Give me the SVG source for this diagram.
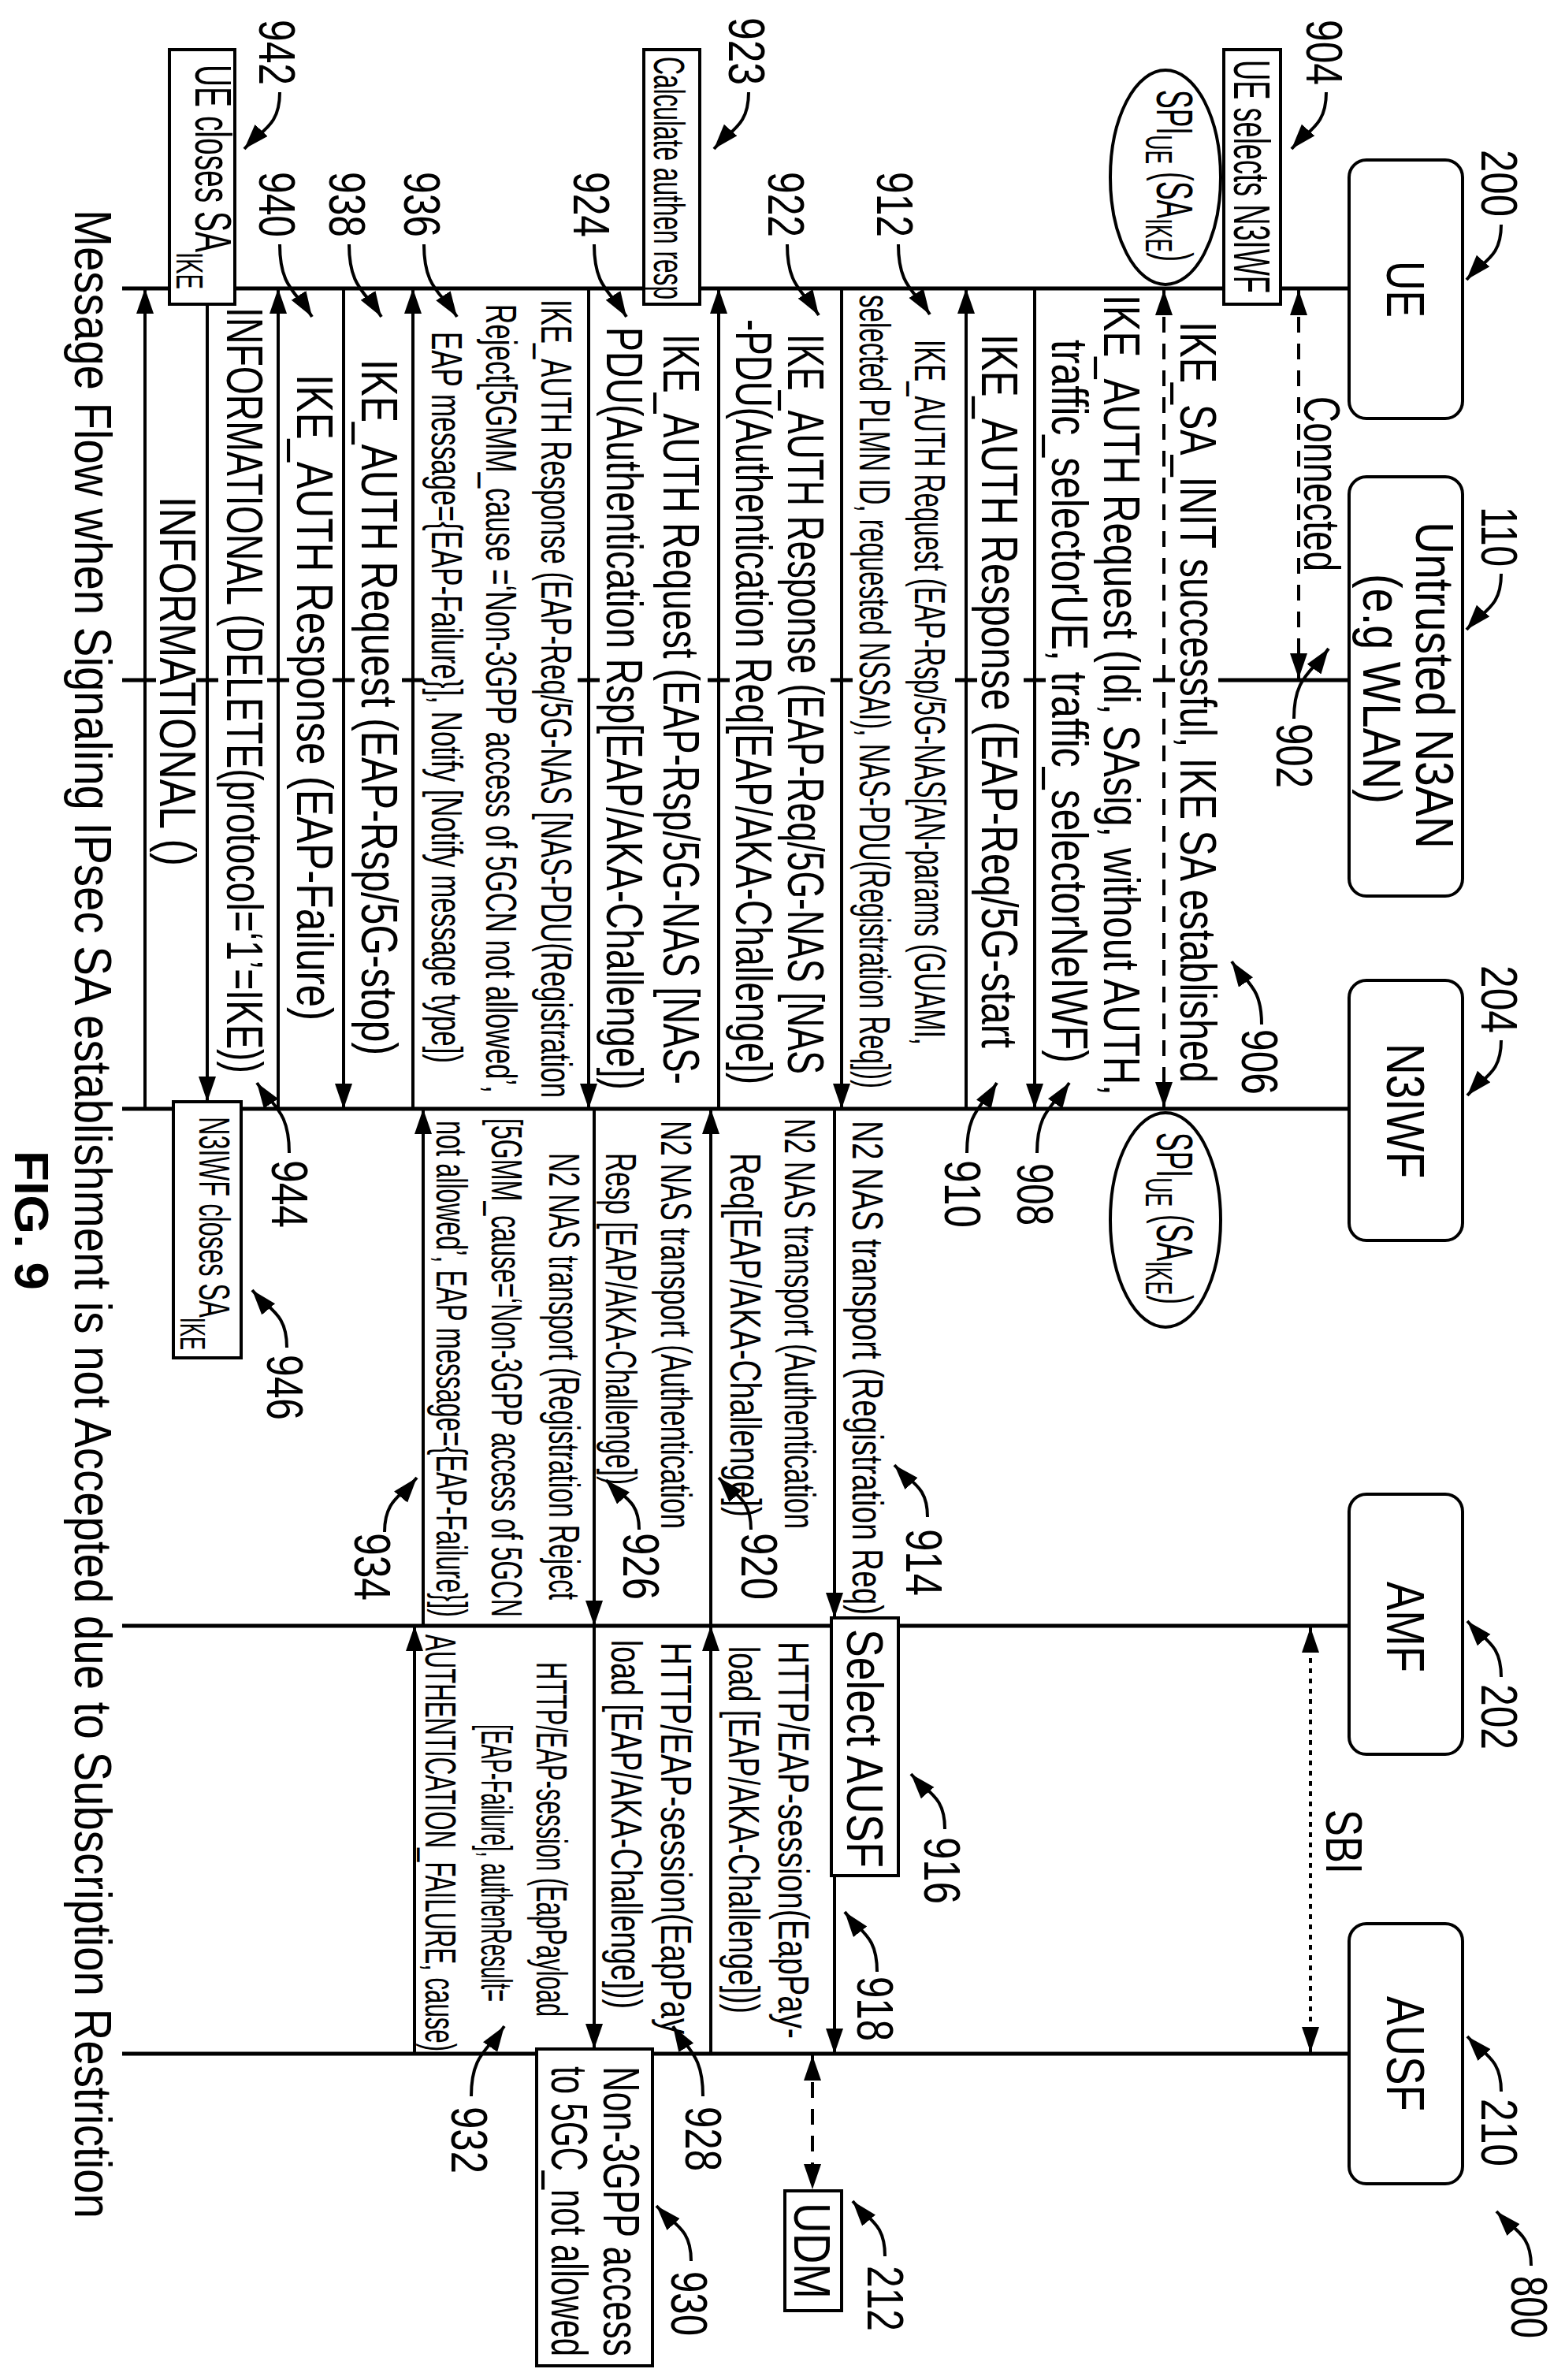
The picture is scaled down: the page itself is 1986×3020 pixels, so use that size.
<svg xmlns="http://www.w3.org/2000/svg" width="1986" height="3020" viewBox="0 0 1986 3020">
<defs>
<marker id="ah" markerUnits="userSpaceOnUse" markerWidth="34" markerHeight="24" refX="32" refY="11" orient="auto-start-reverse"><path d="M0,0 L32,11 L0,22 z" fill="#000"/></marker>
<style>
.ll{stroke:#000;stroke-width:5;fill:none}
.m{stroke:#000;stroke-width:4;fill:none;marker-end:url(#ah)}
.d{stroke:#000;stroke-width:4;fill:none;stroke-dasharray:20 14;marker-start:url(#ah);marker-end:url(#ah)}
.o{stroke:#000;stroke-width:4;fill:none;stroke-dasharray:6 7;marker-start:url(#ah);marker-end:url(#ah)}
.bx{fill:#fff;stroke:#000;stroke-width:4}
.el{fill:#fff;stroke:#000;stroke-width:4}
.ld{stroke:#000;stroke-width:4;fill:none;marker-end:url(#ah)}
text{font-family:"Liberation Sans",Arial,Helvetica,sans-serif;fill:#000}
.b{font-size:64px}
.s{font-size:56px}
.n{font-size:64px}
.h{font-size:68px}
</style>
</defs>
<rect width="1986" height="3020" fill="#fff"/>
<g transform="translate(1986,0) rotate(90)">
<g id="lifelines">
<line class="ll" x1="366" y1="274" x2="366" y2="1831"/>
<line class="ll" x1="1407" y1="274" x2="1407" y2="1831"/>
<line class="ll" x1="2063" y1="274" x2="2063" y2="1831"/>
<line class="ll" x1="2606" y1="274" x2="2606" y2="1831"/>
<path class="ll" d="M863,274 V440 M863,495 V523 M863,659 V687 M863,746 V774 M863,904 V932 M863,1060 V1088 M863,1225 V1253 M863,1448 V1476 M863,1536 V1564 M863,1619 V1647 M863,1709 V1737 M863,1788 V1831"/>
</g>
<g id="UE"><rect class="bx" x="203" y="130" width="328" height="144" rx="22"/><text class="h" x="331" y="226" textLength="72" lengthAdjust="spacingAndGlyphs">UE</text>
<text class="n" x="190" y="106" textLength="85" lengthAdjust="spacingAndGlyphs">200</text><path class="ld" d="M285,81 C327,81 330,103 355,125"/></g>
<g id="N3AN"><rect class="bx" x="605" y="130" width="532" height="144" rx="22"/><text class="h" x="662" y="189" textLength="415" lengthAdjust="spacingAndGlyphs">Untrusted N3AN</text><text class="h" x="728" y="256" textLength="292" lengthAdjust="spacingAndGlyphs">(e.g WLAN)</text>
<text class="n" x="643" y="106" textLength="76" lengthAdjust="spacingAndGlyphs">110</text><path class="ld" d="M728,81 C771,81 774,103 799,125"/></g>
<g id="N3IWF"><rect class="bx" x="1244" y="130" width="330" height="144" rx="22"/><text class="h" x="1324" y="226" textLength="171" lengthAdjust="spacingAndGlyphs">N3IWF</text>
<text class="n" x="1225" y="106" textLength="86" lengthAdjust="spacingAndGlyphs">204</text><path class="ld" d="M1320,81 C1362,81 1365,102 1390,124"/></g>
<g id="AMF"><rect class="bx" x="1896" y="130" width="330" height="144" rx="22"/><text class="h" x="2007" y="226" textLength="115" lengthAdjust="spacingAndGlyphs">AMF</text>
<text class="n" x="2137" y="106" textLength="83" lengthAdjust="spacingAndGlyphs">202</text><path class="ld" d="M2128,81 C2085,81 2082,102 2057,124"/></g>
<g id="AUSF"><rect class="bx" x="2441" y="130" width="330" height="144" rx="22"/><text class="h" x="2533" y="226" textLength="146" lengthAdjust="spacingAndGlyphs">AUSF</text>
<text class="n" x="2663" y="106" textLength="86" lengthAdjust="spacingAndGlyphs">210</text><path class="ld" d="M2654,81 C2612,81 2608,102 2584,124"/></g>
<g id="ref800"><text class="n" x="2888" y="68" textLength="79" lengthAdjust="spacingAndGlyphs">800</text><path class="ld" d="M2875,43 C2834,43 2830,65 2806,87"/></g>
<g id="UDM"><rect class="bx" x="2780" y="918" width="152" height="72" /><text class="b" x="2795" y="978" textLength="122" lengthAdjust="spacingAndGlyphs">UDM</text>
<text class="n" x="2875" y="885" textLength="83" lengthAdjust="spacingAndGlyphs">212</text><path class="ld" d="M2863,863 C2821,863 2818,883 2793,904"/></g>
<g id="connectors">
<line class="d" x1="368" y1="338" x2="861" y2="338"/>
<line class="d" x1="368" y1="509" x2="1405" y2="509"/>
<line class="m" x1="366" y1="673" x2="1407" y2="673"/>
<line class="m" x1="1407" y1="760" x2="366" y2="760"/>
<line class="m" x1="366" y1="918" x2="1407" y2="918"/>
<line class="m" x1="1407" y1="1074" x2="366" y2="1074"/>
<line class="m" x1="366" y1="1239" x2="1407" y2="1239"/>
<line class="m" x1="1407" y1="1462" x2="366" y2="1462"/>
<line class="m" x1="366" y1="1550" x2="1407" y2="1550"/>
<line class="m" x1="1407" y1="1633" x2="366" y2="1633"/>
<line class="m" x1="386" y1="1723" x2="1398" y2="1723"/>
<line class="m" x1="1407" y1="1802" x2="366" y2="1802"/>
<line class="m" x1="1407" y1="927" x2="2053" y2="927"/>
<line class="m" x1="2380" y1="927" x2="2606" y2="927"/>
<line class="m" x1="2606" y1="1084" x2="2063" y2="1084"/>
<line class="m" x1="2063" y1="1084" x2="1407" y2="1084"/>
<line class="m" x1="1407" y1="1232" x2="2063" y2="1232"/>
<line class="m" x1="2063" y1="1232" x2="2600" y2="1232"/>
<line class="m" x1="2606" y1="1460" x2="2063" y2="1460"/>
<line class="m" x1="2063" y1="1449" x2="1407" y2="1449"/>
<line class="o" x1="2065" y1="323" x2="2604" y2="323"/>
<line class="d" x1="2608" y1="955" x2="2778" y2="955"/>
</g>
<g id="n904"><rect class="bx" x="63" y="361" width="323" height="72"/><text class="b" x="76" y="420" textLength="296" lengthAdjust="spacingAndGlyphs">UE selects N3IWF</text>
<text class="n" x="25" y="328" textLength="83" lengthAdjust="spacingAndGlyphs">904</text><path class="ld" d="M117,303 C160,303 164,325 189,347"/></g>
<g id="spi1"><ellipse class="el" cx="225" cy="507" rx="136" ry="70"/><text class="b" x="114" y="518" textLength="218" lengthAdjust="spacingAndGlyphs">SPI<tspan font-size="48" dy="14">UE</tspan><tspan dy="-14"> (SA</tspan><tspan font-size="48" dy="14">IKE</tspan><tspan dy="-14">)</tspan></text></g>
<g id="spi2"><ellipse class="el" cx="1548" cy="507" rx="136" ry="70"/><text class="b" x="1437" y="518" textLength="218" lengthAdjust="spacingAndGlyphs">SPI<tspan font-size="48" dy="14">UE</tspan><tspan dy="-14"> (SA</tspan><tspan font-size="48" dy="14">IKE</tspan><tspan dy="-14">)</tspan></text></g>
<g id="m902"><text class="b" x="503" y="331" textLength="222" lengthAdjust="spacingAndGlyphs">Connected</text>
<text class="n" x="918" y="366" textLength="82" lengthAdjust="spacingAndGlyphs">902</text><path class="ld" d="M912,344 C859,344 854,322 823,300"/></g>
<g id="m906"><text class="b" x="408" y="488" textLength="966" lengthAdjust="spacingAndGlyphs">IKE_SA_INIT successful, IKE SA established</text>
<text class="n" x="1306" y="410" textLength="83" lengthAdjust="spacingAndGlyphs">906</text><path class="ld" d="M1300,385 C1252,385 1248,404 1220,423"/></g>
<g id="m908"><text class="b" x="374" y="585" textLength="1016" lengthAdjust="spacingAndGlyphs">IKE_AUTH Request (Idi, SAsig, without AUTH,</text><text class="b" x="431" y="651" textLength="918" lengthAdjust="spacingAndGlyphs">traffic_selectorUE, traffic_selectorNeIWF)</text>
<text class="n" x="1476" y="695" textLength="79" lengthAdjust="spacingAndGlyphs">908</text><path class="ld" d="M1463,670 C1410,670 1405,650 1374,629"/></g>
<g id="m910"><text class="b" x="424" y="740" textLength="906" lengthAdjust="spacingAndGlyphs">IKE_AUTH Response (EAP-Req/5G-start</text>
<text class="n" x="1472" y="787" textLength="86" lengthAdjust="spacingAndGlyphs">910</text><path class="ld" d="M1463,759 C1410,759 1405,740 1374,721"/></g>
<g id="m912"><text class="s" x="431" y="825" textLength="895" lengthAdjust="spacingAndGlyphs">IKE_AUTH Request (EAP-Rsp/5G-NAS[AN-params (GUAMI,</text><text class="s" x="374" y="895" textLength="1007" lengthAdjust="spacingAndGlyphs">selected PLMN ID, requested NSSAI), NAS-PDU(Registration Req]))</text>
<text class="n" x="218" y="873" textLength="83" lengthAdjust="spacingAndGlyphs">912</text><path class="ld" d="M310,846 C363,846 368,826 399,806"/></g>
<g id="m922"><text class="b" x="424" y="986" textLength="939" lengthAdjust="spacingAndGlyphs">IKE_AUTH Response (EAP-Req/5G-NAS [NAS</text><text class="b" x="405" y="1052" textLength="971" lengthAdjust="spacingAndGlyphs">-PDU(Authentication Req[EAP/AKA-Challenge])</text>
<text class="n" x="218" y="1011" textLength="83" lengthAdjust="spacingAndGlyphs">922</text><path class="ld" d="M310,987 C364,987 368,967 400,947"/></g>
<g id="n923"><rect class="bx" x="63" y="1098" width="323" height="71"/><text class="s" x="72" y="1156" textLength="308" lengthAdjust="spacingAndGlyphs">Calculate authen resp</text>
<text class="n" x="22" y="1061" textLength="86" lengthAdjust="spacingAndGlyphs">923</text><path class="ld" d="M117,1036 C160,1036 164,1058 189,1080"/></g>
<g id="m924"><text class="b" x="424" y="1144" textLength="952" lengthAdjust="spacingAndGlyphs">IKE_AUTH Request (EAP-Rsp/5G-NAS [NAS-</text><text class="b" x="415" y="1216" textLength="968" lengthAdjust="spacingAndGlyphs">PDU(Authentication Rsp[EAP/AKA-Challenge])</text>
<text class="n" x="218" y="1258" textLength="83" lengthAdjust="spacingAndGlyphs">924</text><path class="ld" d="M310,1232 C365,1232 370,1211 402,1191"/></g>
<g id="m936"><text class="s" x="380" y="1299" textLength="1013" lengthAdjust="spacingAndGlyphs">IKE_AUTH Response (EAP-Req/5G-NAS [NAS-PDU(Registration</text><text class="s" x="386" y="1369" textLength="1001" lengthAdjust="spacingAndGlyphs">Reject[5GMM_cause =‘Non-3GPP access of 5GCN not allowed’,</text><text class="s" x="421" y="1438" textLength="928" lengthAdjust="spacingAndGlyphs">EAP message={EAP-Failure}], Notify [Notify message type])</text>
<text class="n" x="218" y="1473" textLength="83" lengthAdjust="spacingAndGlyphs">936</text><path class="ld" d="M310,1448 C365,1448 370,1427 402,1406"/></g>
<g id="m938"><text class="b" x="456" y="1527" textLength="883" lengthAdjust="spacingAndGlyphs">IKE_AUTH Request (EAP-Rsp/5G-stop)</text>
<text class="n" x="218" y="1568" textLength="83" lengthAdjust="spacingAndGlyphs">938</text><path class="ld" d="M310,1543 C365,1543 370,1522 402,1502"/></g>
<g id="m940"><text class="b" x="475" y="1609" textLength="820" lengthAdjust="spacingAndGlyphs">IKE_AUTH Response (EAP-Failure)</text>
<text class="n" x="218" y="1657" textLength="83" lengthAdjust="spacingAndGlyphs">940</text><path class="ld" d="M310,1631 C365,1631 370,1610 402,1590"/></g>
<g id="n942"><rect class="bx" x="63" y="1688" width="323" height="83"/><text class="b" x="82" y="1738" textLength="285" lengthAdjust="spacingAndGlyphs">UE closes SA<tspan font-size="48" dy="24">IKE</tspan></text>
<text class="n" x="25" y="1657" textLength="83" lengthAdjust="spacingAndGlyphs">942</text><path class="ld" d="M117,1631 C160,1631 164,1653 189,1676"/></g>
<g id="m944"><text class="b" x="390" y="1698" textLength="972" lengthAdjust="spacingAndGlyphs">INFORMATIONAL (DELETE(protocol=‘1’=IKE))</text>
<text class="n" x="1472" y="1641" textLength="86" lengthAdjust="spacingAndGlyphs">944</text><path class="ld" d="M1463,1619 C1410,1619 1405,1639 1374,1660"/></g>
<g id="n946"><rect class="bx" x="1398" y="1680" width="325" height="86"/><text class="s" x="1417" y="1733" textLength="296" lengthAdjust="spacingAndGlyphs">N3IWF closes SA<tspan font-size="44" dy="24">IKE</tspan></text>
<text class="n" x="1719" y="1647" textLength="83" lengthAdjust="spacingAndGlyphs">946</text><path class="ld" d="M1710,1622 C1666,1622 1663,1644 1637,1666"/></g>
<g id="m_info"><text class="b" x="630" y="1783" textLength="469" lengthAdjust="spacingAndGlyphs">INFORMATIONAL ()</text></g>
<g id="m914"><text class="s" x="1422" y="904" textLength="627" lengthAdjust="spacingAndGlyphs">N2 NAS transport (Registration Req)</text>
<text class="n" x="1940" y="836" textLength="85" lengthAdjust="spacingAndGlyphs">914</text><path class="ld" d="M1925,809 C1885,809 1882,830 1859,851"/></g>
<g id="n916"><rect class="bx" x="2053" y="846" width="327" height="85"/><text class="b" x="2067" y="911" textLength="303" lengthAdjust="spacingAndGlyphs">Select AUSF</text>
<text class="n" x="2331" y="813" textLength="85" lengthAdjust="spacingAndGlyphs">916</text><path class="ld" d="M2321,787 C2279,787 2276,808 2251,830"/></g>
<g id="m918"><text class="s" x="2083" y="998" textLength="504" lengthAdjust="spacingAndGlyphs">HTTP/EAP-session(EapPay-</text><text class="s" x="2089" y="1061" textLength="466" lengthAdjust="spacingAndGlyphs">load [EAP/AKA-Challenge]))</text>
<text class="n" x="2508" y="898" textLength="82" lengthAdjust="spacingAndGlyphs">918</text><path class="ld" d="M2502,873 C2456,873 2453,893 2426,914"/></g>
<g id="m920"><text class="s" x="1419" y="990" textLength="521" lengthAdjust="spacingAndGlyphs">N2 NAS transport (Authentication</text><text class="s" x="1463" y="1059" textLength="462" lengthAdjust="spacingAndGlyphs">Req[EAP/AKA-Challenge])</text>
<text class="n" x="1945" y="1045" textLength="85" lengthAdjust="spacingAndGlyphs">920</text><path class="ld" d="M1941,1033 C1901,1033 1898,1053 1875,1074"/></g>
<g id="m926"><text class="s" x="1422" y="1147" textLength="518" lengthAdjust="spacingAndGlyphs">N2 NAS transport (Authentication</text><text class="s" x="1463" y="1217" textLength="421" lengthAdjust="spacingAndGlyphs">Resp [EAP/AKA-Challenge])</text>
<text class="n" x="1945" y="1195" textLength="85" lengthAdjust="spacingAndGlyphs">926</text><path class="ld" d="M1941,1175 C1903,1175 1900,1196 1878,1217"/></g>
<g id="m928"><text class="s" x="2084" y="1147" textLength="497" lengthAdjust="spacingAndGlyphs">HTTP/EAP-session(EapPay</text><text class="s" x="2081" y="1210" textLength="468" lengthAdjust="spacingAndGlyphs">load [EAP/AKA-Challenge]))</text>
<text class="n" x="2673" y="1116" textLength="82" lengthAdjust="spacingAndGlyphs">928</text><path class="ld" d="M2660,1094 C2607,1094 2602,1113 2571,1132"/></g>
<g id="n930"><rect class="bx" x="2600" y="1158" width="402" height="147"/><text class="b" x="2622" y="1220" textLength="368" lengthAdjust="spacingAndGlyphs">Non-3GPP access</text><text class="b" x="2622" y="1286" textLength="368" lengthAdjust="spacingAndGlyphs">to 5GC_not allowed</text>
<text class="n" x="2882" y="1134" textLength="82" lengthAdjust="spacingAndGlyphs">930</text><path class="ld" d="M2869,1109 C2827,1109 2823,1131 2799,1153"/></g>
<g id="m934"><text class="s" x="1463" y="1289" textLength="567" lengthAdjust="spacingAndGlyphs">N2 NAS transport (Registration Reject</text><text class="s" x="1419" y="1362" textLength="633" lengthAdjust="spacingAndGlyphs">[5GMM_cause=‘Non-3GPP access of 5GCN</text><text class="s" x="1422" y="1432" textLength="630" lengthAdjust="spacingAndGlyphs">not allowed’, EAP message={EAP-Failure}])</text>
<text class="n" x="1945" y="1536" textLength="86" lengthAdjust="spacingAndGlyphs">934</text><path class="ld" d="M1944,1498 C1903,1498 1899,1477 1875,1457"/></g>
<g id="m932"><text class="s" x="2109" y="1305" textLength="450" lengthAdjust="spacingAndGlyphs">HTTP/EAP-session (EapPayload</text><text class="s" x="2188" y="1375" textLength="352" lengthAdjust="spacingAndGlyphs">[EAP-Failure], authenResult=</text><text class="s" x="2074" y="1446" textLength="529" lengthAdjust="spacingAndGlyphs">AUTHENTICATION_FAILURE, cause)</text>
<text class="n" x="2673" y="1413" textLength="85" lengthAdjust="spacingAndGlyphs">932</text><path class="ld" d="M2660,1388 C2607,1388 2602,1367 2571,1346"/></g>
<g id="sbi"><text class="b" x="2296" y="303" textLength="82" lengthAdjust="spacingAndGlyphs">SBI</text></g>
<g id="title"><text style="font-size:66px" x="266" y="1891" textLength="2549" lengthAdjust="spacingAndGlyphs">Message Flow when Signaling IPsec SA establishment is not Accepted due to Subscription Restriction</text>
<text style="font-size:62px;font-weight:bold" x="1460" y="1967" textLength="177" lengthAdjust="spacingAndGlyphs">FIG. 9</text></g>
</g>
</svg>
